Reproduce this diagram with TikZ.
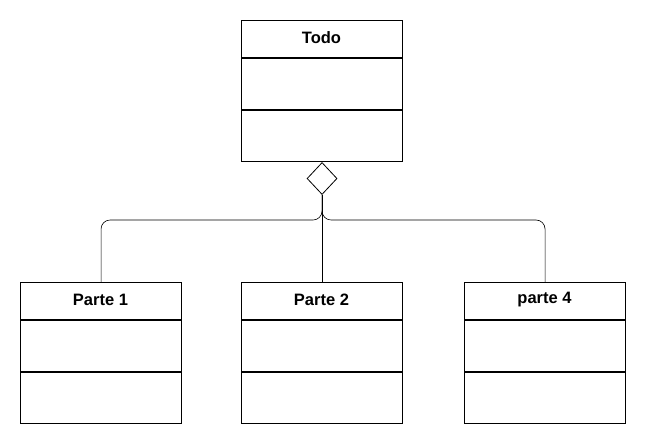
\documentclass[tikz,border=0pt]{standalone}
\usepackage{fontspec}
\setmainfont{Liberation Sans}
\usetikzlibrary{shapes.geometric}
\begin{document}
\begin{tikzpicture}[x=1pt,y=-1pt,
  box/.style={draw,line width=1.1pt,minimum width=161pt,minimum height=141pt,anchor=north west,inner sep=0pt},
  ttl/.style={font=\fontsize{16.5}{19}\selectfont\bfseries},
  conn/.style={draw,line width=0.6pt,rounded corners=9pt}]
\useasboundingbox (0,0) rectangle (646,445);
\newcommand{\umlbox}[4]{%
  \node[box] (#1) at (#2,#3) {};
  \draw[line width=1.1pt] (#2,#3+38) -- (#2+161,#3+38);
  \draw[line width=1.1pt] (#2,#3+90) -- (#2+161,#3+90);
  \node[ttl] (#1t) at (#2+80.5,#3+18) {#4};}
\umlbox{todo}{241}{20}{Todo}
\umlbox{p1}{20}{282}{Parte 1}
\umlbox{p2}{241}{282}{Parte 2}
\umlbox{p4}{464}{282}{parte 4}
\node[diamond,draw,line width=0.8pt,minimum width=30pt,minimum height=32pt,inner sep=0pt,fill=white,anchor=north] (d) at (todo.south) {};
\coordinate (j) at (322,220);
\draw[conn] (d.south) -- (j -| d.south) -| (p1.north);
\draw[conn] (d.south) -- (j -| d.south) -| (p4.north);
\draw[line width=0.6pt] (d.south) -- (p2.north);
\end{tikzpicture}
\end{document}
